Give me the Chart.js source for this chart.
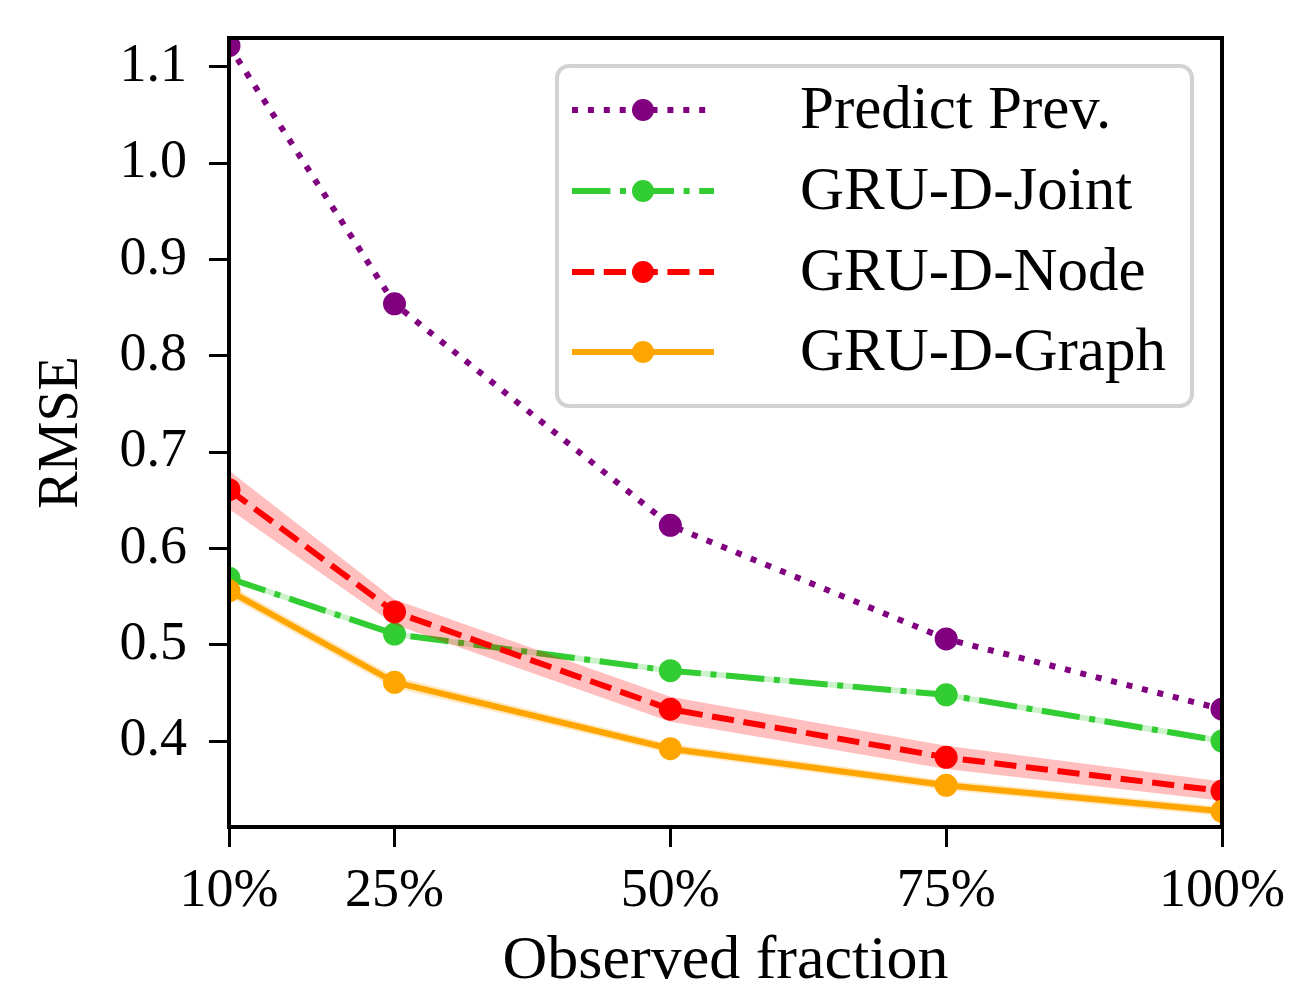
<!DOCTYPE html>
<html>
<head>
<meta charset="utf-8">
<script src="https://cdn.jsdelivr.net/npm/chart.js@4.4.0/dist/chart.umd.min.js"></script>
<style>
  html, body { margin: 0; padding: 0; background: #fff; }
  #wrap { width: 1300px; height: 993px; }
</style>
</head>
<body>
<div id="wrap"><canvas id="chart" width="1300" height="993"></canvas></div>
<script>
// observed fraction (%)
var fractions = [10, 25, 50, 75, 100];
var xTicks = [10, 25, 50, 75, 100];
var yTicks = [0.4, 0.5, 0.6, 0.7, 0.8, 0.9, 1.0, 1.1];

var predictPrev = [1.122, 0.854, 0.624, 0.506, 0.433];
var gruJoint    = [0.569, 0.511, 0.473, 0.448, 0.400];
var gruNode     = [0.661, 0.534, 0.433, 0.383, 0.348];
var gruGraph    = [0.556, 0.461, 0.392, 0.354, 0.327];

// half width of the shaded bands
var jointErr = [0.003, 0.003, 0.003, 0.003, 0.003];
var nodeErr  = [0.020, 0.013, 0.013, 0.012, 0.010];
var graphErr = [0.006, 0.006, 0.005, 0.005, 0.005];

var LW = 6;
var dotted  = [LW * 1.0, LW * 1.65];
var dashed  = [LW * 3.7, LW * 1.6];
var dashdot = [LW * 6.4, LW * 1.6, LW * 1.0, LW * 1.6];
var FONT = "'Liberation Serif', 'DejaVu Serif', serif";

function pts(vals) {
    return vals.map(function(v, i) { return {x: fractions[i], y: v}; });
}
function shifted(vals, err, sign) {
    return vals.map(function(v, i) { return {x: fractions[i], y: v + sign * err[i]}; });
}

function lineSet(label, vals, color, dash, order) {
    return {
        label: label,
        data: pts(vals),
        borderColor: color,
        backgroundColor: color,
        borderWidth: LW,
        borderDash: dash,
        borderCapStyle: 'butt',
        pointRadius: 11.5,
        pointHoverRadius: 11.5,
        pointBorderWidth: 0,
        pointBackgroundColor: color,
        tension: 0,
        fill: false,
        clip: 0,
        order: order
    };
}
function bandSets(vals, err, color, order) {
    return [{
        label: '_lo',
        data: shifted(vals, err, -1),
        borderWidth: 0,
        pointRadius: 0,
        fill: false,
        order: order
    }, {
        label: '_hi',
        data: shifted(vals, err, 1),
        borderWidth: 0,
        pointRadius: 0,
        backgroundColor: color,
        fill: '-1',
        order: order
    }];
}

var series = [
    {label: 'Predict Prev.', color: '#800080', dash: dotted},
    {label: 'GRU-D-Joint', color: '#32cd32', dash: dashdot},
    {label: 'GRU-D-Node', color: '#ff0000', dash: dashed},
    {label: 'GRU-D-Graph', color: '#ffa500', dash: []}
];

var datasets = [].concat(
    [lineSet(series[0].label, predictPrev, series[0].color, series[0].dash, 7)],
    bandSets(gruJoint, jointErr, 'rgba(50,205,50,0.25)', 6),
    [lineSet(series[1].label, gruJoint, series[1].color, series[1].dash, 5)],
    bandSets(gruNode, nodeErr, 'rgba(255,0,0,0.25)', 4),
    [lineSet(series[2].label, gruNode, series[2].color, series[2].dash, 3)],
    bandSets(gruGraph, graphErr, 'rgba(255,165,0,0.25)', 2),
    [lineSet(series[3].label, gruGraph, series[3].color, series[3].dash, 1)]
);

// frame + legend drawn on top
var framePlugin = {
    id: 'frameLegend',
    afterDraw: function(chart) {
        var ctx = chart.ctx, a = chart.chartArea;
        ctx.save();
        ctx.strokeStyle = '#000';
        ctx.lineWidth = 4;
        ctx.setLineDash([]);
        ctx.strokeRect(a.left, a.top, a.right - a.left, a.bottom - a.top);

        // legend box
        var bx = 557, by = 66, bw = 635, bh = 340, r = 12;
        ctx.beginPath();
        ctx.moveTo(bx + r, by);
        ctx.arcTo(bx + bw, by, bx + bw, by + bh, r);
        ctx.arcTo(bx + bw, by + bh, bx, by + bh, r);
        ctx.arcTo(bx, by + bh, bx, by, r);
        ctx.arcTo(bx, by, bx + bw, by, r);
        ctx.closePath();
        ctx.fillStyle = 'rgba(255,255,255,0.8)';
        ctx.fill();
        ctx.strokeStyle = '#d2d2d2';
        ctx.lineWidth = 4;
        ctx.stroke();

        var rowY = [110, 191, 272, 352];
        series.forEach(function(s, i) {
            var y = rowY[i];
            ctx.beginPath();
            ctx.strokeStyle = s.color;
            ctx.lineWidth = LW;
            ctx.lineCap = 'butt';
            ctx.setLineDash(s.dash);
            ctx.moveTo(572, y);
            ctx.lineTo(714, y);
            ctx.stroke();
            ctx.setLineDash([]);
            ctx.beginPath();
            ctx.fillStyle = s.color;
            ctx.arc(643, y, 11, 0, Math.PI * 2);
            ctx.fill();
            ctx.fillStyle = '#000';
            ctx.font = '61px ' + FONT;
            ctx.textBaseline = 'middle';
            ctx.textAlign = 'left';
            ctx.fillText(s.label, 800, y + 2);
        });
        ctx.restore();
    }
};

new Chart(document.getElementById('chart'), {
    type: 'line',
    data: { datasets: datasets },
    options: {
        responsive: false,
        animation: false,
        events: [],
        layout: { padding: { top: 38, right: 78, left: 0, bottom: 0 } },
        plugins: {
            legend: { display: false },
            tooltip: { enabled: false },
            filler: { drawTime: 'beforeDatasetDraw' }
        },
        scales: {
            x: {
                type: 'linear',
                min: 10,
                max: 100,
                afterBuildTicks: function(scale) {
                    scale.ticks = xTicks.map(function(v) { return {value: v}; });
                },
                afterFit: function(scale) {
                    scale.height = 166;
                    scale.paddingLeft = 0;
                    scale.paddingRight = 0;
                },
                grid: { drawOnChartArea: false, drawTicks: true, tickLength: 20, tickWidth: 3, tickColor: '#000' },
                border: { display: false },
                ticks: {
                    color: '#000',
                    padding: 12,
                    maxRotation: 0,
                    font: { family: FONT, size: 54 },
                    callback: function(v) { return v + '%'; }
                },
                title: {
                    display: true,
                    text: 'Observed fraction',
                    color: '#000',
                    font: { family: FONT, size: 62, lineHeight: 1 },
                    padding: { top: 0, bottom: 0 }
                }
            },
            y: {
                type: 'linear',
                min: 0.3107,
                max: 1.130,
                afterBuildTicks: function(scale) {
                    scale.ticks = yTicks.map(function(v) { return {value: v}; });
                },
                afterFit: function(scale) {
                    scale.width = 229;
                    scale.paddingTop = 0;
                    scale.paddingBottom = 0;
                },
                grid: { drawOnChartArea: false, drawTicks: true, tickLength: 20, tickWidth: 3, tickColor: '#000' },
                border: { display: false },
                ticks: {
                    color: '#000',
                    padding: 22,
                    font: { family: FONT, size: 54 },
                    callback: function(v) { return v.toFixed(1); }
                },
                title: {
                    display: true,
                    text: 'RMSE',
                    color: '#000',
                    font: { family: FONT, size: 56, lineHeight: 1 },
                    padding: { top: 34, bottom: 0 }
                }
            }
        }
    },
    plugins: [framePlugin]
});
</script>
</body>
</html>
